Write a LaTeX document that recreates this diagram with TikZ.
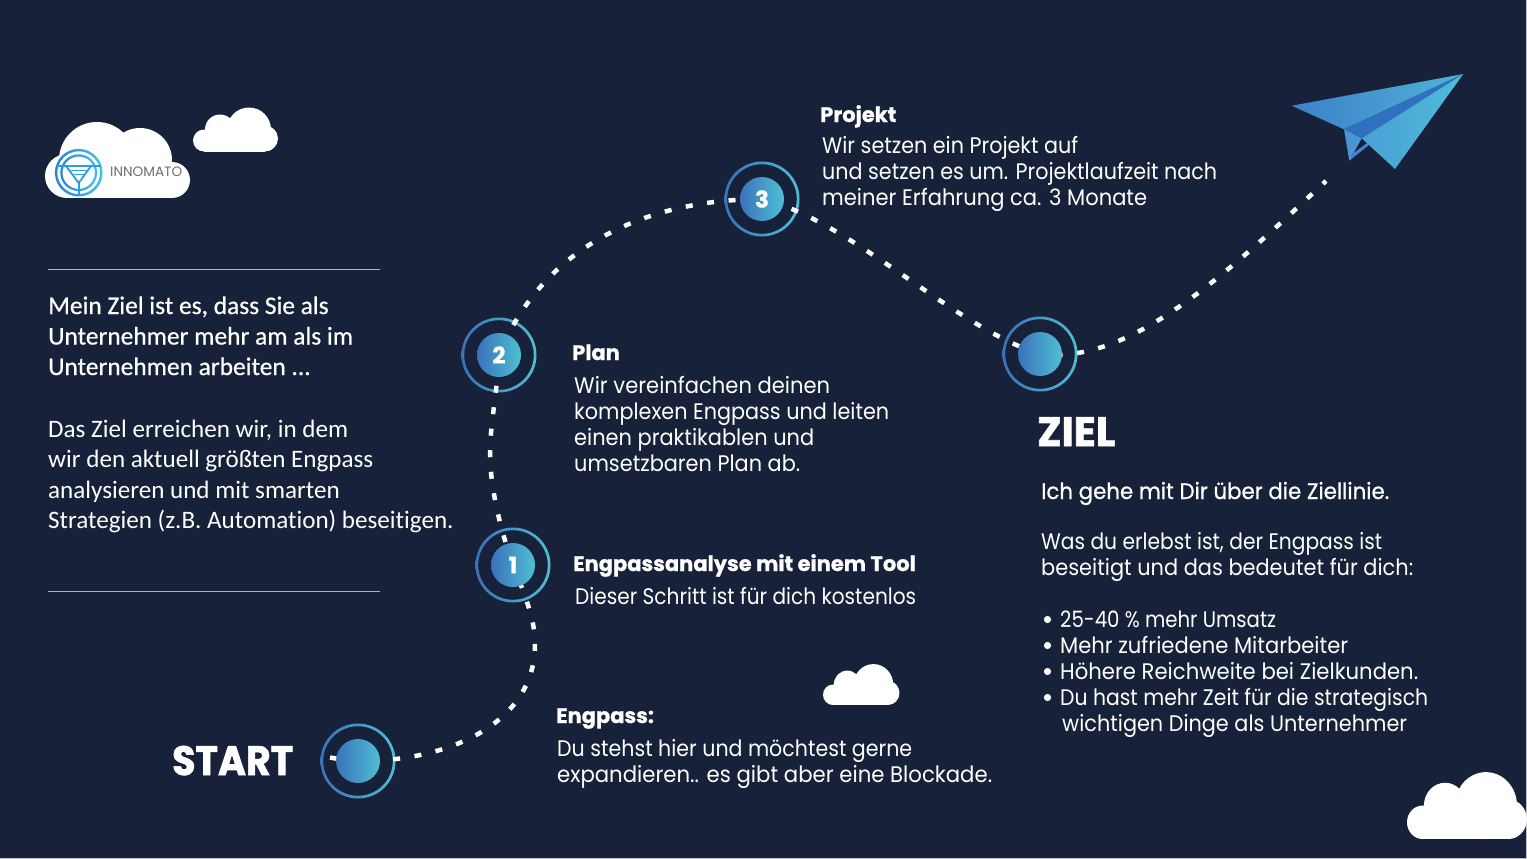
\documentclass[tikz,border=0pt]{standalone}
\usepackage{fontspec}
\setmainfont{Poppins}
\newfontfamily\calfont{Carlito}[Ligatures=NoCommon]
\newfontfamily\calfontb{Carlito}[Ligatures=NoCommon,FakeBold=0.6]
\newfontfamily\popb{Poppins}[BoldFeatures={FakeBold=0.8}]
\newfontfamily\popbb{Poppins}[BoldFeatures={FakeBold=1.6}]
\newfontfamily\popm{Poppins}[FakeBold=0.8]
\newcommand{\lw}[2]{\resizebox{#1pt}{\height}{#2}}
\definecolor{bgc}{HTML}{172139}
\definecolor{gl}{HTML}{3A72BA}
\definecolor{gr}{HTML}{4FBFD4}
\definecolor{ruleg}{HTML}{AEB2BA}
\definecolor{logoc}{HTML}{2E9BE8}
\definecolor{logol}{HTML}{2A7FE0}
\definecolor{logor}{HTML}{3CC4EC}
\definecolor{logot}{HTML}{6B7076}
\definecolor{edgec}{HTML}{BFC3CA}
\definecolor{planea}{HTML}{3D80C8}
\definecolor{planeb}{HTML}{4FB2D8}
\definecolor{planec}{HTML}{3070C0}
\definecolor{planed}{HTML}{4A9FD6}
\definecolor{planee}{HTML}{4FBCD8}
\definecolor{planef}{HTML}{4A96D4}
\definecolor{planeg}{HTML}{3F86CF}
\pgfdeclarelayer{ringlayer}
\pgfdeclarelayer{dashlayer}
\pgfsetlayers{ringlayer,dashlayer,main}
\tikzset{
  disc/.style={circle,minimum size=44pt,inner sep=0pt,left color=gl,right color=gr,text=white,font=\popb\bfseries\fontsize{23}{23}\selectfont},
  ring/.style={even odd rule,left color=gl,right color=gr},
  dashline/.style={white,line width=4.5pt,dash pattern=on 7pt off 14.6pt},
  body/.style={anchor=base west,inner sep=0pt,align=left,text=white,font=\fontsize{22.5}{26}\selectfont},
  head/.style={anchor=base west,inner sep=0pt,align=left,text=white,font=\popb\bfseries\fontsize{21}{26}\selectfont},
  sub/.style={anchor=base west,inner sep=0pt,align=left,text=white,font=\popm\fontsize{22.5}{26}\selectfont},
  big/.style={anchor=base west,inner sep=0pt,text=white,font=\popbb\bfseries\fontsize{41}{41}\selectfont},
  cal/.style={anchor=base west,inner sep=0pt,align=left,text=white,font=\calfont\fontsize{25.1}{30.5}\selectfont},
  calb/.style={anchor=base west,inner sep=0pt,align=left,text=white,font=\calfontb\fontsize{25.4}{30.5}\selectfont},
  rulel/.style={draw=ruleg,line width=1pt},
  logoline/.style={draw=logoc,line width=1.8pt},
}
\newcommand{\cloudA}[3]{%
  \begin{scope}[shift={(#1,#2)},scale=#3]
    \fill[white] (22,-22) circle (22) (127,-18) circle (18) (52,-38) circle (38) (95,-38) circle (32);
    \fill[white] (22,-36) rectangle (127,0);
  \end{scope}}
\newcommand{\cloudB}[4]{%
  \begin{scope}[shift={(#1,#2)},xscale=#3,yscale=#4]
    \fill[white] (11,-11) circle (11) (72,-13) circle (13) (27,-22) circle (15) (56,-22) circle (22);
    \fill[white] (11,-22) rectangle (72,0);
  \end{scope}}
\begin{document}
\begin{tikzpicture}[x=1pt,y=-1pt]
\useasboundingbox (0,0) rectangle (1527,859);
\begin{pgfonlayer}{ringlayer}
  \fill[bgc] (0,0) rectangle (1527,859);
  \draw[edgec,line width=1pt] (1526.5,0) -- (1526.5,858) -- (0,858);
\end{pgfonlayer}

% discs
\node[disc] (s) at (358,761) {};
\node[disc] (a) at (513,565) {\raisebox{-1.5pt}{1}};
\node[disc] (b) at (499,355) {\raisebox{-1pt}{2}};
\node[disc] (c) at (762,199) {\raisebox{-1pt}{3}};
\node[disc] (z) at (1040,354) {};
\coordinate (startfree) at (330,757.5);
\coordinate (startfreeb) at (337,758.7);
\coordinate (endfree) at (1326,181);

\begin{pgfonlayer}{ringlayer}
  \foreach \n in {s,a,b,c,z}
    \shade[ring] (\n.center) circle (37.5) (\n.center) circle (34.8);
\end{pgfonlayer}

\begin{pgfonlayer}{dashlayer}
  \draw[white,line width=4.5pt] (startfree) -- (startfreeb);
  \draw[dashline,dash phase=8pt] (s.center) .. controls (445,762) and (536,725) .. (535,643) .. controls (535,620) and (525,595) .. (a.center);
  \draw[dashline,dash phase=19pt] (a.center) .. controls (497,520) and (490,480) .. (490,453) .. controls (490,425) and (497,395) .. (b.center);
  \draw[dashline,dash phase=10pt] (b.center) .. controls (536,262) and (625,200) .. (c.center);
  \draw[dashline,dash phase=12pt] (c.center) .. controls (850,220) and (955,328) .. (z.center);
  \draw[dashline,dash phase=6pt] (z.center) .. controls (1130,365) and (1225,275) .. (endfree);
\end{pgfonlayer}

% clouds
\cloudA{45}{198}{1}
\cloudB{193}{151.5}{1}{1}
\cloudB{823}{705}{0.9}{0.93}
\cloudB{1407}{839}{1.41}{1.52}

% logo
\shade[even odd rule,left color=logol,right color=logor] (78.7,172.7) circle (23.8) (78.7,172.7) circle (21.4);
\shade[even odd rule,left color=logol,right color=logor] (78.7,172.7) circle (18.4) (78.7,172.7) circle (16.2);
\draw[logoline] (56,166) -- (101,166);
\draw[logoline,line join=miter] (66,166) -- (78.7,183) -- (91,166);
\draw[logoline] (78.7,183) -- (78.7,195);
\draw[logoline,line width=1.2pt] (71,170.3) -- (86.5,170.3);
\draw[logoline,line width=1.2pt] (74,174.5) -- (83.5,174.5);
\node[anchor=base west,inner sep=0pt,text=logot,font=\fontsize{13.6}{14}\selectfont] (logotext) at (110,176) {INNOMATO};

% plane
\shade[left color=planea,right color=planeb] (1291.7,105.7) -- (1463.3,74) -- (1344,129.3) -- cycle;
\fill[planec] (1344,129.3) -- (1463.3,74) -- (1361.7,138.3) -- cycle;
\shade[left color=planed,right color=planee] (1361.7,138.3) -- (1463.3,74) -- (1395,169) -- cycle;
\fill[planef] (1344,129.3) -- (1361.7,138.3) -- (1349.3,160.7) -- cycle;
\fill[planeg] (1349.3,160.7) -- (1369,145) -- (1367,143) -- (1351,155) -- cycle;

% rules
\draw[rulel] (48,269.5) -- (380,269.5);
\draw[rulel] (48,591) -- (380,591);

% left text
\node[calb] (t1) at (48,375) {Mein Ziel ist es, dass Sie als\\Unternehmer mehr am als im\\Unternehmen arbeiten ...};
\node[cal] (t2) at (48,528.5) {Das Ziel erreichen wir, in dem\\wir den aktuell größten Engpass\\analysieren und mit smarten\\Strategien (z.B. Automation) beseitigen.};

% step text
\node[head] (h3) at (820,122) {Projekt};
\node[body] (b3) at (822,205) {\lw{256}{Wir setzen ein Projekt auf}\\\lw{395}{und setzen es um. Projektlaufzeit nach}\\\lw{325}{meiner Erfahrung ca. 3 Monate}};
\node[head] (h2) at (572,360) {Plan};
\node[body] (b2) at (574,471) {\lw{256}{Wir vereinfachen deinen}\\\lw{315}{komplexen Engpass und leiten}\\\lw{240}{einen praktikablen und}\\\lw{226}{umsetzbaren Plan ab.}};
\node[head] (h1) at (573,571) {Engpassanalyse mit einem Tool};
\node[body] (b1) at (575,604) {\lw{341}{Dieser Schritt ist für dich kostenlos}};
\node[head] (h0) at (556,723) {Engpass:};
\node[body] (b0) at (557,782) {\lw{355}{Du stehst hier und möchtest gerne}\\\lw{435}{expandieren.. es gibt aber eine Blockade.}};
\node[big] (st) at (172,775) {\lw{121}{START}};
\node[big] (zl) at (1037,446) {ZIEL};
\node[sub] (z1) at (1041,499) {\lw{348}{Ich gehe mit Dir über die Ziellinie.}};
\node[body] (z2) at (1041,575) {\lw{341}{Was du erlebst ist, der Engpass ist}\\\lw{372}{beseitigt und das bedeutet für dich:}};
\node[body] (z3) at (1060,731) {\lw{216}{25-40 \% mehr Umsatz}\\\lw{288}{Mehr zufriedene Mitarbeiter}\\\lw{358}{Höhere Reichweite bei Zielkunden.}\\\lw{368}{Du hast mehr Zeit für die strategisch}\\\hspace*{2pt}\lw{345}{wichtigen Dinge als Unternehmer}};
\foreach \y in {619.5,645.5,671.5,697.5}
  \fill[white] (1047.5,\y) circle (3.6);
\end{tikzpicture}
\end{document}
